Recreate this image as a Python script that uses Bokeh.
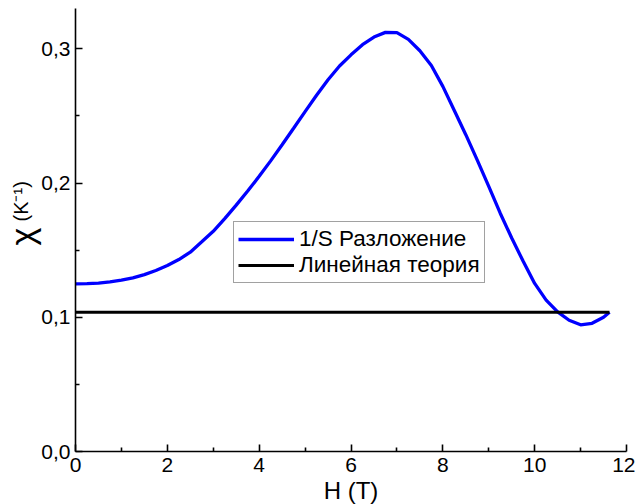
from bokeh.plotting import figure
from bokeh.models import Range1d, FixedTicker, Label, Legend, LegendItem
from bokeh.embed import file_html
from bokeh.resources import INLINE
import math

# ---- data ----
h_field = [0, 0.25, 0.5, 0.75, 1.0, 1.25, 1.5, 1.75, 2.0, 2.25, 2.5, 2.75,
           3.0, 3.25, 3.5, 3.75, 4.0, 4.25, 4.5, 4.75, 5.0, 5.25, 5.5, 5.75,
           6.0, 6.25, 6.5, 6.75, 7.0, 7.25, 7.5, 7.75, 8.0, 8.25, 8.5, 8.75,
           9.0, 9.25, 9.5, 9.75, 10.0, 10.25, 10.5, 10.75, 11.0, 11.25, 11.5,
           11.63]
chi_expansion = [0.1248, 0.1250, 0.1255, 0.1263, 0.1276, 0.1294, 0.1318,
                 0.1348, 0.1385, 0.1430, 0.1485, 0.1562, 0.1640, 0.1735,
                 0.1835, 0.1940, 0.2050, 0.2165, 0.2285, 0.2408, 0.2532,
                 0.2654, 0.2769, 0.2872, 0.2955, 0.3030, 0.3087, 0.3122,
                 0.3120, 0.3070, 0.2985, 0.2875, 0.2720, 0.2540, 0.2360,
                 0.2170, 0.1975, 0.1775, 0.1590, 0.1417, 0.1252, 0.1128,
                 0.1040, 0.0978, 0.0944, 0.0955, 0.1000, 0.1037]
h_linear = [0, 11.63]
chi_linear = [0.1037, 0.1037]

x_ticks = [0, 2, 4, 6, 8, 10, 12]
x_minor = [1, 3, 5, 7, 9, 11]
y_ticks = [0.0, 0.1, 0.2, 0.3]
y_minor = [0.05, 0.15, 0.25]
y_tick_labels = ["0,0", "0,1", "0,2", "0,3"]
x_limits = (0, 12)
y_limits = (0, 0.33)

legend_labels = ["1/S Разложение", "Линейная теория"]

FONT = "Liberation Sans"

W, H = 635, 504
PAD_L, PAD_R, PAD_T, PAD_B = 75, 9, 8, 53   # room around the axes box
sx = (W - PAD_L - PAD_R) / (x_limits[1] - x_limits[0])
sy = (H - PAD_T - PAD_B) / (y_limits[1] - y_limits[0])

p = figure(width=W, height=H, output_backend="svg", toolbar_location=None,
           x_range=Range1d(x_limits[0] - PAD_L / sx, x_limits[1] + PAD_R / sx),
           y_range=Range1d(y_limits[0] - PAD_B / sy, y_limits[1] + PAD_T / sy),
           min_border=0)
p.outline_line_color = None
p.grid.visible = False
p.background_fill_color = "white"
p.border_fill_color = "white"

r1 = p.line(h_field, chi_expansion, line_color="#0000ff", line_width=3.3)
r2 = p.line(h_linear, chi_linear, line_color="black", line_width=3)

p.xaxis.fixed_location = y_limits[0]
p.xaxis.bounds = x_limits
p.yaxis.fixed_location = x_limits[0]
p.yaxis.bounds = y_limits

for ax in (p.xaxis[0], p.yaxis[0]):
    ax.axis_line_width = 1.6
    ax.axis_line_color = "black"
    ax.major_tick_in = 7
    ax.major_tick_out = 0
    ax.minor_tick_in = 4
    ax.minor_tick_out = 0
    ax.major_tick_line_width = 1.6
    ax.minor_tick_line_width = 1.6
    ax.major_tick_line_color = "black"
    ax.minor_tick_line_color = "black"
    ax.major_label_text_font = FONT
    ax.major_label_text_font_size = "21px"
    ax.major_label_text_color = "black"

p.xaxis.ticker = FixedTicker(ticks=x_ticks, minor_ticks=x_minor)
p.yaxis.ticker = FixedTicker(ticks=y_ticks, minor_ticks=y_minor)
p.yaxis.major_label_overrides = {t: s for t, s in zip(y_ticks, y_tick_labels)}
p.xaxis.major_label_standoff = 6
p.yaxis.major_label_standoff = 5

p.xaxis.axis_label = "H (T)"
p.xaxis.axis_label_text_font = FONT
p.xaxis.axis_label_text_font_size = "24px"
p.xaxis.axis_label_text_font_style = "normal"
p.xaxis.axis_label_standoff = 2
p.xaxis.axis_label_text_color = "black"

# y axis label: large chi plus (K^-1), left of the y axis, reading upward
p.add_layout(Label(x=-54 / sx, y=(451 - 245) / sy, text="χ",
                   angle=math.pi / 2, text_align="left",
                   text_baseline="alphabetic", text_font=FONT,
                   text_font_size="34px", text_color="black"))
p.add_layout(Label(x=-55 / sx, y=(451 - 221) / sy, text="(K⁻¹)",
                   angle=math.pi / 2, text_align="left",
                   text_baseline="alphabetic", text_font=FONT,
                   text_font_size="20px", text_color="black"))

legend = Legend(items=[LegendItem(label=legend_labels[0], renderers=[r1]),
                       LegendItem(label=legend_labels[1], renderers=[r2])],
                location=(233, 221))
legend.label_text_font = FONT
legend.label_text_font_size = "22.5px"
legend.label_text_color = "black"
legend.glyph_width = 56
legend.glyph_height = 26
legend.label_height = 26
legend.label_standoff = 5
legend.spacing = 0
legend.padding = 4
legend.margin = 0
legend.border_line_color = "#444444"
legend.border_line_width = 1
legend.background_fill_alpha = 1
p.add_layout(legend)

open("out.html", "w").write(file_html(p, INLINE))
